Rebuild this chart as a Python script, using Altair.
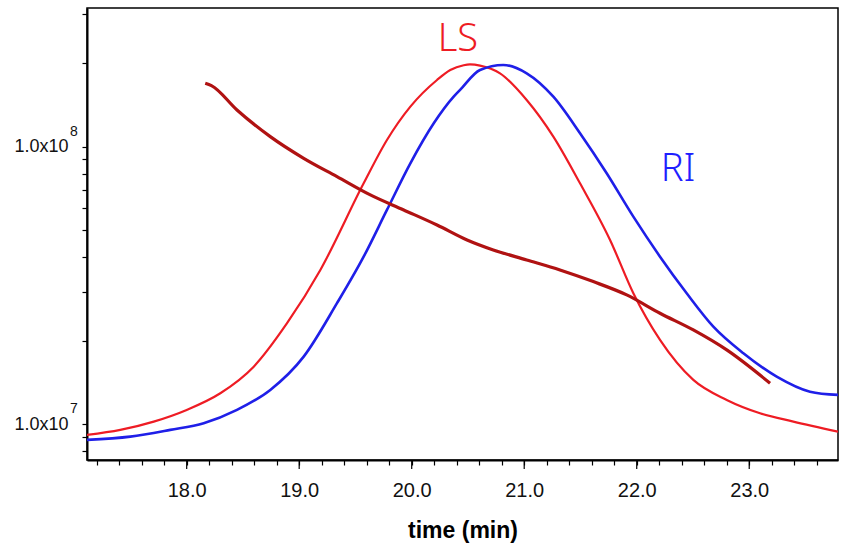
import altair as alt
import pandas as pd

# --- data (time in min, signal / molar mass on log axis) ---
ls_time = [17.114, 17.41, 17.707, 18.0, 18.299, 18.596, 18.892, 19.188, 19.573,
           19.78, 19.988, 20.225, 20.343, 20.462, 20.518, 20.607, 20.785, 21.022, 21.259,
           21.496, 21.763, 21.97, 22.207, 22.503, 22.8, 23.096, 23.392, 23.789]
ls_value = [9.15e6, 9.54e6, 1.022e7, 1.126e7, 1.293e7, 1.612e7, 2.311e7, 3.596e7, 7.38e7,
            1.057e8, 1.394e8, 1.739e8, 1.889e8, 1.965e8, 1.978e8, 1.960e8, 1.838e8, 1.473e8, 1.087e8,
            7.38e7, 4.612e7, 2.964e7, 2.012e7, 1.444e7, 1.223e7, 1.095e7, 1.022e7, 9.40e6]

ri_time = [17.114, 17.499, 17.854, 18.151, 18.447, 18.743, 19.04, 19.336, 19.573, 19.78,
           19.988, 20.196, 20.373, 20.43, 20.607, 20.814, 21.022, 21.259, 21.496, 21.733,
           21.97, 22.207, 22.444, 22.681, 22.948, 23.244, 23.54, 23.789]
ri_value = [8.78e6, 9.02e6, 9.54e6, 1.008e7, 1.126e7, 1.329e7, 1.752e7, 2.729e7, 4.015e7, 5.916e7,
            8.71e7, 1.214e8, 1.514e8, 1.601e8, 1.889e8, 1.970e8, 1.838e8, 1.514e8, 1.118e8, 8.02e7,
            5.595e7, 4.015e7, 2.964e7, 2.247e7, 1.802e7, 1.484e7, 1.310e7, 1.275e7]

mm_time = [18.165, 18.22, 18.447, 18.743, 19.04, 19.336, 19.632, 19.929, 20.225, 20.492,
           20.725, 21.022, 21.318, 21.614, 21.911, 22.207, 22.503, 22.8, 23.185]
mm_value = [1.692e8, 1.66e8, 1.356e8, 1.087e8, 9.08e7, 7.80e7, 6.70e7, 5.916e7, 5.222e7, 4.612e7,
            4.245e7, 3.908e7, 3.596e7, 3.264e7, 2.923e7, 2.511e7, 2.186e7, 1.852e7, 1.405e7]

x_ticks = [round(17.2 + 0.2 * i, 1) for i in range(34)]
x_major = [18.0, 19.0, 20.0, 21.0, 22.0, 23.0]
y_ticks = [8e6, 9e6, 1e7, 2e7, 3e7, 4e7, 5e7, 6e7, 7e7, 8e7, 9e7, 1e8, 2e8, 3e8]
decades = [1e7, 1e8]
decade_exp = ["7", "8"]

labels_text = ["LS", "RI"]
labels_time = [20.41, 22.367]
labels_value = [2.423e8, 8.24e7]
labels_color = ["#ee1c24", "#1f1fff"]

X_DOMAIN = [17.114, 23.789]
Y_DOMAIN = [7.43e6, 3.16e8]
FONT = "Liberation Sans"
PLOT_H = 452

df = pd.concat([
    pd.DataFrame({"time": ls_time, "value": ls_value, "series": "LS"}),
    pd.DataFrame({"time": ri_time, "value": ri_value, "series": "RI"}),
    pd.DataFrame({"time": mm_time, "value": mm_value, "series": "MM"}),
], ignore_index=True)

xs = alt.Scale(domain=X_DOMAIN, nice=False, zero=False)
ys = alt.Scale(type="log", domain=Y_DOMAIN, nice=False)

x_axis = alt.Axis(values=x_ticks,
                  labelExpr="abs(datum.value - round(datum.value)) < 0.01 ? format(datum.value, '.1f') : ''",
                  grid=False, domainColor="black", domainWidth=2, tickColor="black",
                  tickWidth=1.2, tickSize=5, labelFont=FONT, labelFontSize=20,
                  labelColor="#111", labelPadding=15, titleFont=FONT, titleFontSize=23,
                  titleFontWeight="bold", titleColor="black", titlePadding=19,
                  labelFlush=False, labelOverlap=False, labelSeparation=0)
y_axis = alt.Axis(values=y_ticks,
                  labelExpr="abs(log(datum.value)/LN10 - round(log(datum.value)/LN10)) < 0.001 ? '1.0x10' : ''",
                  grid=False, domainColor="black", domainWidth=2, tickColor="black",
                  tickWidth=1.2, tickSize=5, labelFont=FONT, labelFontSize=18,
                  labelColor="#111", labelPadding=14, labelOverlap=False, labelFlush=False,
                  labelSeparation=0)

x_enc = alt.X("time:Q", scale=xs, title="time (min)", axis=x_axis)
y_enc = alt.Y("value:Q", scale=ys, title=None, axis=y_axis)

base = alt.Chart(df)


def series_line(name, color, width):
    return base.transform_filter(alt.datum.series == name).mark_line(
        color=color, strokeWidth=width, clip=True, interpolate="monotone").encode(
        x=x_enc, y=y_enc, order="time:Q")


ls_line = series_line("LS", "#ee1c24", 2.2)
ri_line = series_line("RI", "#1f1fe8", 2.6)
mm_line = series_line("MM", "#b01212", 3.2)

# longer tick marks at the labelled (major) times
major_df = pd.DataFrame({"time": x_major})
major_ticks = alt.Chart(major_df).mark_rule(color="black", strokeWidth=1.2, clip=False).encode(
    x=x_enc, y=alt.value(PLOT_H + 1), y2=alt.value(PLOT_H + 9))

sup_df = pd.DataFrame({"value": decades, "exp": decade_exp})
sup = alt.Chart(sup_df).mark_text(font=FONT, fontSize=14, color="#111", align="center",
                                  baseline="middle", dy=-15).encode(
    x=alt.value(-13), y=alt.Y("value:Q", scale=ys, axis=y_axis, title=None), text="exp:N")

lab_df = pd.DataFrame({"time": labels_time, "value": labels_value, "text": labels_text,
                       "color": labels_color})
labels = alt.Chart(lab_df).mark_text(font="Noto Sans", fontSize=38, fontWeight=300,
                                     align="center", baseline="middle").encode(
    x=x_enc, y=y_enc, text="text:N", color=alt.Color("color:N", scale=None))

chart = alt.layer(ls_line, ri_line, mm_line, major_ticks, sup, labels).resolve_scale(
    x="shared", y="shared").properties(
    width=751, height=PLOT_H,
    padding={"left": 87, "top": 8, "right": 7, "bottom": 87},
    autosize="none",
    background="white",
).configure_view(stroke="black", strokeWidth=1.5).configure_axis(
    labelOverlap=False, labelSeparation=0)

chart.save("out.html", embed_options={"renderer": "svg", "actions": False})
